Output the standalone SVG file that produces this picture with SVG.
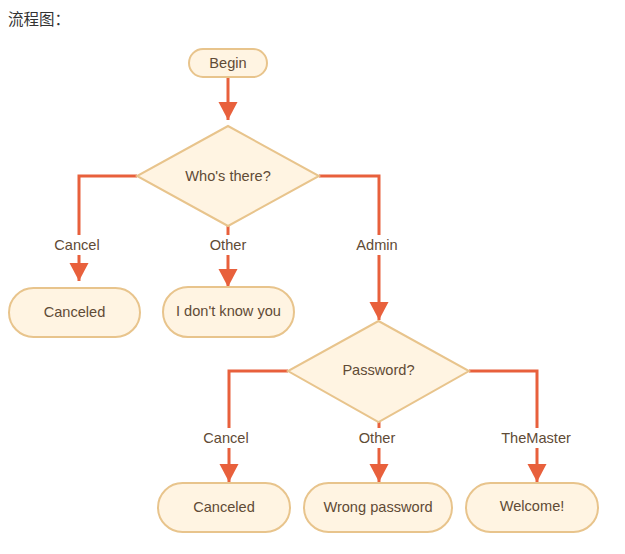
<svg xmlns="http://www.w3.org/2000/svg" width="625" height="554" viewBox="0 0 625 554">
<style>
.node{fill:#fff4e2;stroke:#e8c48c;stroke-width:2}
.t{font-family:"Liberation Sans",Arial,sans-serif;font-size:14.6px;fill:#5f4b36;text-anchor:middle;dominant-baseline:central}
.edge{fill:none;stroke:#e8603c;stroke-width:3}
.lbl{font-family:"Liberation Sans",Arial,sans-serif;font-size:14.6px;fill:#5f4b36;text-anchor:middle;dominant-baseline:central}
.bg{fill:#ffffff}
.title{font-family:"Noto Sans CJK SC",sans-serif;font-size:15.5px;fill:#333333}
</style>
<defs>
<marker id="ah" markerUnits="userSpaceOnUse" markerWidth="20" markerHeight="20" refX="18" refY="9.5" orient="auto">
<path d="M0,0 L18,9.5 L0,19 Z" fill="#e8603c"/>
</marker>
</defs>
<text class="title" x="8" y="25">流程图：</text>
<g id="connectors">
<path class="edge" d="M228,77 V120" marker-end="url(#ah)"/>
<path class="edge" d="M137,176 H79 V281" marker-end="url(#ah)"/>
<path class="edge" d="M228,226 V287" marker-end="url(#ah)"/>
<path class="edge" d="M319,176 H379 V320" marker-end="url(#ah)"/>
<path class="edge" d="M288,371 H229 V482" marker-end="url(#ah)"/>
<path class="edge" d="M379,422 V482" marker-end="url(#ah)"/>
<path class="edge" d="M469,371 H537 V482" marker-end="url(#ah)"/>
<rect class="bg" x="50" y="235" width="58" height="20"/>
<text class="lbl" x="77" y="245">Cancel</text>
<rect class="bg" x="205" y="235" width="46" height="20"/>
<text class="lbl" x="228" y="245">Other</text>
<rect class="bg" x="354" y="235" width="48" height="20"/>
<text class="lbl" x="377" y="245">Admin</text>
<rect class="bg" x="200" y="428" width="58" height="20"/>
<text class="lbl" x="226" y="438">Cancel</text>
<rect class="bg" x="355" y="428" width="46" height="20"/>
<text class="lbl" x="377" y="438">Other</text>
<rect class="bg" x="497" y="428" width="80" height="20"/>
<text class="lbl" x="536" y="438">TheMaster</text>
</g>
<g id="begin">
<rect class="node" x="189" y="49" width="78" height="28" rx="14"/>
<text class="t" x="228" y="63">Begin</text>
</g>
<g id="who">
<polygon class="node" points="228,126 319,176 228,226 137,176"/>
<text class="t" x="228" y="176">Who's there?</text>
</g>
<g id="canceled1">
<rect class="node" x="9" y="288" width="131" height="49" rx="24.5"/>
<text class="t" x="74.5" y="312">Canceled</text>
</g>
<g id="unknown">
<rect class="node" x="163" y="287" width="131" height="50" rx="25"/>
<text class="t" x="228.5" y="311">I don't know you</text>
</g>
<g id="password">
<polygon class="node" points="378.5,321 469,371 378.5,422 288,371"/>
<text class="t" x="378.5" y="370">Password?</text>
</g>
<g id="canceled2">
<rect class="node" x="158" y="483" width="132" height="49" rx="24.5"/>
<text class="t" x="224" y="507">Canceled</text>
</g>
<g id="wrong">
<rect class="node" x="304" y="483" width="148" height="49" rx="24.5"/>
<text class="t" x="378" y="507">Wrong password</text>
</g>
<g id="welcome">
<rect class="node" x="466" y="483" width="132" height="49" rx="24.5"/>
<text class="t" x="532" y="506">Welcome!</text>
</g>
</svg>
